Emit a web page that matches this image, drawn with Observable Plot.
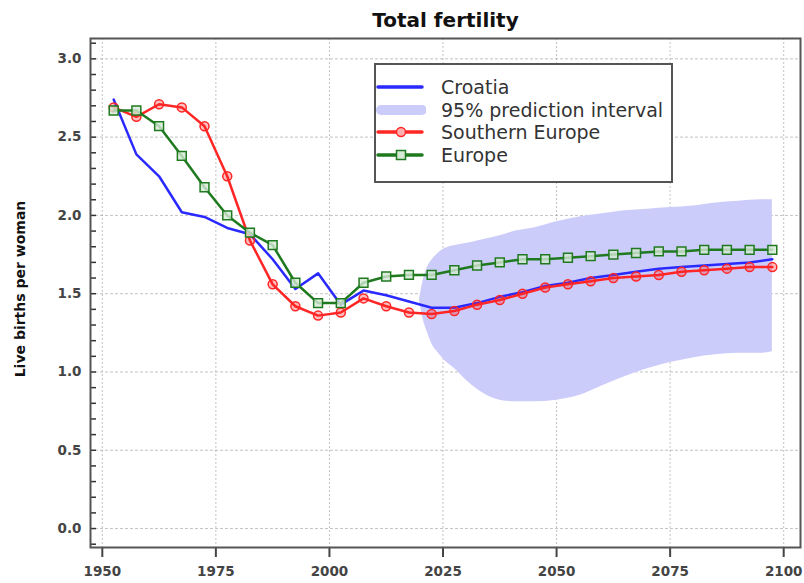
<!DOCTYPE html>
<html>
<head>
<meta charset="utf-8">
<script src="https://cdn.jsdelivr.net/npm/d3@7"></script>
<script src="https://cdn.jsdelivr.net/npm/@observablehq/plot@0.6"></script>
<style>
  body { margin: 0; background: #fff; font-family: "DejaVu Sans", sans-serif; }
  #wrap { position: relative; width: 804px; height: 583px; }
  #legend { position: absolute; left: 374px; top: 63px; width: 299px; height: 120px; box-sizing: border-box;
            border: 2px solid #555; background: #fff; }
  .row { position: absolute; left: 0; height: 22px; width: 295px; }
  .row svg { position: absolute; left: 0; top: 0; }
  .row span { position: absolute; left: 65px; top: 0; line-height: 22px; font-size: 19px; color: #333; white-space: nowrap; }
</style>
</head>
<body>
<div id="wrap">
  <div id="chart"></div>
  <div id="legend"></div>
</div>
<script>
// ---- data ----
const years = [1952.5, 1957.5, 1962.5, 1967.5, 1972.5, 1977.5, 1982.5, 1987.5, 1992.5, 1997.5,
               2002.5, 2007.5, 2012.5, 2017.5, 2022.5, 2027.5, 2032.5, 2037.5, 2042.5, 2047.5,
               2052.5, 2057.5, 2062.5, 2067.5, 2072.5, 2077.5, 2082.5, 2087.5, 2092.5, 2097.5];
const croatia = [2.74, 2.39, 2.25, 2.02, 1.99, 1.92, 1.88, 1.72, 1.53, 1.63,
                 1.43, 1.52, 1.49, 1.45, 1.41, 1.41, 1.44, 1.48, 1.51, 1.55,
                 1.57, 1.60, 1.62, 1.64, 1.66, 1.67, 1.68, 1.69, 1.70, 1.72];
const southernEurope = [2.69, 2.63, 2.71, 2.69, 2.57, 2.25, 1.84, 1.56, 1.42, 1.36,
                        1.38, 1.47, 1.42, 1.38, 1.37, 1.39, 1.43, 1.46, 1.50, 1.54,
                        1.56, 1.58, 1.60, 1.61, 1.62, 1.64, 1.65, 1.66, 1.67, 1.67];
const europe = [2.67, 2.67, 2.57, 2.38, 2.18, 2.00, 1.89, 1.81, 1.57, 1.44,
                1.44, 1.57, 1.61, 1.62, 1.62, 1.65, 1.68, 1.70, 1.72, 1.72,
                1.73, 1.74, 1.75, 1.76, 1.77, 1.77, 1.78, 1.78, 1.78, 1.78];
const bandYears = [2019.8, 2020.6, 2021.6, 2022.7, 2024, 2025.5, 2028, 2030, 2033, 2037.5, 2041, 2045, 2050,
                   2055, 2060, 2065, 2070, 2075, 2080, 2085, 2090, 2095, 2097.5];
const bandLow  = [1.46, 1.34, 1.25, 1.17, 1.12, 1.07, 1.01, 0.95, 0.88, 0.82, 0.81, 0.81, 0.82,
                  0.85, 0.91, 0.97, 1.02, 1.06, 1.09, 1.11, 1.12, 1.12, 1.13];
const bandHigh = [1.46, 1.58, 1.67, 1.72, 1.76, 1.79, 1.81, 1.82, 1.84, 1.87, 1.90, 1.92, 1.96,
                  1.99, 2.01, 2.03, 2.04, 2.05, 2.06, 2.08, 2.09, 2.10, 2.10];
const xTicks = [1950, 1975, 2000, 2025, 2050, 2075, 2100];
const yTicks = [0, 0.5, 1, 1.5, 2, 2.5, 3];
const yMinorTicks = [-0.1, 0, 0.1, 0.2, 0.3, 0.4, 0.5, 0.6, 0.7, 0.8, 0.9, 1, 1.1, 1.2, 1.3, 1.4, 1.5, 1.6,
                     1.7, 1.8, 1.9, 2, 2.1, 2.2, 2.3, 2.4, 2.5, 2.6, 2.7, 2.8, 2.9, 3, 3.1];
const seriesNames = ["Croatia", "95% prediction interval", "Southern Europe", "Europe"];
const titleText = "Total fertility";
const yLabel = "Live births per woman";

// ---- tables ----
const croatiaData = years.map((x, i) => ({x, y: croatia[i]}));
const southData = years.map((x, i) => ({x, y: southernEurope[i]}));
const europeData = years.map((x, i) => ({x, y: europe[i]}));
const bandData = bandYears.map((x, i) => ({x, lo: bandLow[i], hi: bandHigh[i]}));

const BLUE = "#2a2aff", RED = "#ff2626", GREEN = "#1f7a1f", BAND = "#ccccfb";

const chart = Plot.plot({
  width: 804,
  height: 583,
  marginLeft: 90,
  marginRight: 4,
  marginTop: 38,
  marginBottom: 36,
  style: {fontFamily: "DejaVu Sans, sans-serif", fontSize: "14px", background: "#fff", overflow: "visible"},
  x: {domain: [1947.4, 2103.7]},
  y: {domain: [-0.121, 3.13]},
  marks: [
    Plot.gridX(xTicks, {stroke: "#888", strokeOpacity: 0.5, strokeDasharray: "2,2"}),
    Plot.gridY(yTicks, {stroke: "#888", strokeOpacity: 0.5, strokeDasharray: "3,2"}),
    Plot.areaY(bandData, {x: "x", y1: "lo", y2: "hi", fill: BAND, curve: "monotone-x"}),
    Plot.line(croatiaData, {x: "x", y: "y", stroke: BLUE, strokeWidth: 2.5}),
    Plot.line(southData, {x: "x", y: "y", stroke: RED, strokeWidth: 2.5}),
    Plot.dot(southData, {x: "x", y: "y", r: 4.5, stroke: RED, strokeWidth: 1.5, fill: RED, fillOpacity: 0.3}),
    Plot.line(europeData, {x: "x", y: "y", stroke: GREEN, strokeWidth: 2.5}),
    Plot.dot(europeData, {x: "x", y: "y", symbol: "square", r: 5, stroke: GREEN, strokeWidth: 1.5, fill: "#d6ead6", fillOpacity: 0.8}),
    Plot.ruleY(yMinorTicks, {y: d => d, insetRight: 704, stroke: "#333", strokeWidth: 1.5}),
    Plot.axisX(xTicks, {tickSize: 10, tickPadding: 9, strokeWidth: 2, color: "#444", fontWeight: "bold", fontSize: 13.5, tickFormat: d3.format("d"), label: null}),
    Plot.axisY(yTicks, {tickSize: 0, tickPadding: 9, color: "#444", fontWeight: "bold", fontSize: 13.5, tickFormat: d3.format(".1f"), label: null}),
    Plot.frame({stroke: "#555", strokeWidth: 2}),
    Plot.text([titleText], {text: d => d, frameAnchor: "top", lineAnchor: "middle", dy: -18, fontSize: 20, fontWeight: "bold", fill: "#111"}),
    Plot.text([yLabel], {text: d => d, frameAnchor: "left", textAnchor: "middle", lineAnchor: "middle", rotate: -90, dx: -70, dy: -4, fontSize: 14, fontWeight: "bold", fill: "#111"})
  ]
});
document.getElementById("chart").appendChild(chart);

// ---- legend ----
const legend = d3.select("#legend");
const rowTops = [11, 34, 56, 79];
const swatches = [
  g => g.append("line").attr("x1", 2).attr("x2", 46).attr("y1", 11).attr("y2", 11).attr("stroke", BLUE).attr("stroke-width", 3.5).attr("stroke-linecap", "round"),
  g => g.append("line").attr("x1", 5).attr("x2", 46).attr("y1", 11).attr("y2", 11).attr("stroke", BAND).attr("stroke-width", 10).attr("stroke-linecap", "round"),
  g => { g.append("line").attr("x1", 2).attr("x2", 46).attr("y1", 11).attr("y2", 11).attr("stroke", RED).attr("stroke-width", 3.5).attr("stroke-linecap", "round");
         g.append("circle").attr("cx", 25).attr("cy", 11).attr("r", 4.5).attr("stroke", RED).attr("stroke-width", 1.5).attr("fill", "#ffb0b0"); },
  g => { g.append("line").attr("x1", 2).attr("x2", 46).attr("y1", 11).attr("y2", 11).attr("stroke", GREEN).attr("stroke-width", 3.5).attr("stroke-linecap", "round");
         g.append("rect").attr("x", 20.5).attr("y", 6.5).attr("width", 9).attr("height", 9).attr("stroke", GREEN).attr("stroke-width", 1.5).attr("fill", "#d6ead6"); }
];
seriesNames.forEach((name, i) => {
  const row = legend.append("div").attr("class", "row").style("top", rowTops[i] + "px");
  const svg = row.append("svg").attr("width", 50).attr("height", 22);
  swatches[i](svg);
  row.append("span").text(name);
});
</script>
</body>
</html>
